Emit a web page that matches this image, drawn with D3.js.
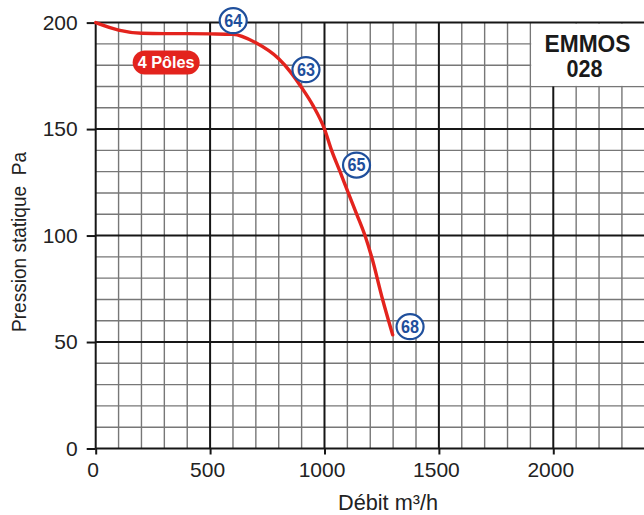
<!DOCTYPE html>
<html>
<head>
<meta charset="utf-8">
<script src="https://cdn.jsdelivr.net/npm/d3@7"></script>
<style>
  html, body { margin: 0; padding: 0; background: #fff; }
  svg { display: block; }
</style>
</head>
<body>
<svg id="chart" width="644" height="515"></svg>
<script>
// ---- data ----
const flow = [0, 100, 200, 300, 400, 500, 600, 700, 800, 850, 900, 950, 1000, 1031, 1068, 1104, 1141, 1177, 1206, 1254, 1298];
const pressure = [200, 196.5, 195, 194.8, 194.8, 194.7, 194.5, 190.5, 183, 177, 169.5, 161, 150, 140, 130, 120, 110, 100, 90, 70, 53.4];

const xTicks = [0, 500, 1000, 1500, 2000];
const yTicks = [0, 50, 100, 150, 200];

const pointLabels = ["64", "63", "65", "68"];
const pointFlow = [601, 919, 1140, 1374];
const pointPressure = [200.9, 177.9, 133.1, 57.2];

const curveName = "4 Pôles";
const curveNameFlow = 308;
const curveNamePressure = 181.3;

const modelLines = ["EMMOS", "028"];

const xTitle = "Débit m³/h";
const yTitle = "Pression statique  Pa";

// ---- layout ----
const svg = d3.select("#chart");
const x = d3.scaleLinear().domain([0, 2400]).range([95.7, 644.8]);
const y = d3.scaleLinear().domain([0, 200]).range([448.5, 22.6]);

const font = "'Liberation Sans', Arial, Helvetica, sans-serif";
const red = "#e3231d";
const blue = "#1f4f9c";

const grid = svg.append("g");
const minorX = d3.range(0, 2401, 100).filter(v => v % 500 !== 0);
const minorY = d3.range(0, 201, 10).filter(v => v % 50 !== 0);
const majorX = d3.range(0, 2401, 500);
const majorY = d3.range(0, 201, 50);

grid.selectAll(".mx").data(minorX).join("line")
  .attr("x1", d => x(d)).attr("x2", d => x(d))
  .attr("y1", y(0)).attr("y2", y(200))
  .attr("stroke", "#777").attr("stroke-width", 1.4);
grid.selectAll(".my").data(minorY).join("line")
  .attr("x1", x(0)).attr("x2", x(2400))
  .attr("y1", d => y(d)).attr("y2", d => y(d))
  .attr("stroke", "#777").attr("stroke-width", 1.4);

// white model box (covers the grid in the top-right corner)
svg.append("rect")
  .attr("x", x(1900) + 0.8).attr("y", y(200) + 1)
  .attr("width", x(2400) - x(1900)).attr("height", y(170) - y(200) - 1.6)
  .attr("fill", "#fff");

grid.selectAll(".Mx").data(majorX).join("line")
  .attr("x1", d => x(d)).attr("x2", d => x(d))
  .attr("y1", d => d >= 2000 ? y(170) : y(0)).attr("y2", d => d >= 2000 ? y(0) : y(200))
  .attr("stroke", "#161616").attr("stroke-width", 2);
svg.append("g").selectAll("line").data(majorY).join("line")
  .attr("x1", x(0)).attr("x2", x(2400))
  .attr("y1", d => y(d)).attr("y2", d => y(d))
  .attr("stroke", "#161616").attr("stroke-width", 2);

// axes
const yAxis = d3.axisLeft(y).tickValues(yTicks).tickSize(9).tickPadding(9).tickFormat(d3.format("d"));
const gy = svg.append("g").attr("transform", `translate(${x(0)},0)`).call(yAxis);
gy.select(".domain").remove();
gy.selectAll(".tick line").attr("stroke", "#161616").attr("stroke-width", 2);
gy.selectAll(".tick text").attr("font-family", font).attr("font-size", 21).attr("fill", "#222");

const xAxis = d3.axisBottom(x).tickValues(xTicks).tickSize(6).tickPadding(8).tickFormat(d3.format("d"));
const gx = svg.append("g").attr("transform", `translate(0,${y(0)})`).call(xAxis);
gx.select(".domain").remove();
gx.selectAll(".tick line").attr("stroke", "#161616").attr("stroke-width", 2);
gx.selectAll(".tick text").attr("font-family", font).attr("font-size", 21).attr("fill", "#222").attr("dx", -3);

// model box text
svg.append("text").attr("x", 587.5).attr("y", 51.5).attr("text-anchor", "middle")
  .attr("font-family", font).attr("font-weight", "bold").attr("font-size", 24)
  .attr("textLength", 86).attr("lengthAdjust", "spacingAndGlyphs").attr("fill", "#1a1a1a")
  .text(modelLines[0]);
svg.append("text").attr("x", 584.5).attr("y", 76.5).attr("text-anchor", "middle")
  .attr("font-family", font).attr("font-weight", "bold").attr("font-size", 24)
  .attr("textLength", 36).attr("lengthAdjust", "spacingAndGlyphs").attr("fill", "#1a1a1a")
  .text(modelLines[1]);

// curve
const pts = flow.map((f, i) => [f, pressure[i]]);
svg.append("path").datum(pts)
  .attr("d", d3.line().x(d => x(d[0])).y(d => y(d[1])).curve(d3.curveMonotoneX))
  .attr("fill", "none").attr("stroke", red).attr("stroke-width", 3.4)
  .attr("stroke-linejoin", "round").attr("stroke-linecap", "round");

// curve name pill
const pill = svg.append("g").attr("transform", `translate(${x(curveNameFlow)},${y(curveNamePressure)})`);
pill.append("rect").attr("x", -33.5).attr("y", -12).attr("width", 67).attr("height", 24).attr("rx", 12)
  .attr("fill", red);
pill.append("text").attr("text-anchor", "middle").attr("y", 6)
  .attr("font-family", font).attr("font-weight", "bold").attr("font-size", 17)
  .attr("textLength", 57).attr("lengthAdjust", "spacingAndGlyphs").attr("fill", "#fff")
  .text(curveName);

// numbered point labels
const marks = svg.append("g").selectAll("g").data(pointLabels).join("g")
  .attr("transform", (d, i) => `translate(${x(pointFlow[i])},${y(pointPressure[i])})`);
marks.append("ellipse").attr("rx", 13.5).attr("ry", 12.5)
  .attr("fill", "#fff").attr("stroke", blue).attr("stroke-width", 2.2);
marks.append("text").attr("text-anchor", "middle").attr("y", 6.3)
  .attr("font-family", font).attr("font-weight", "bold").attr("font-size", 18)
  .attr("textLength", 18).attr("lengthAdjust", "spacingAndGlyphs").attr("fill", blue)
  .text(d => d);

// axis titles
svg.append("text").attr("x", 388).attr("y", 510).attr("text-anchor", "middle")
  .attr("font-family", font).attr("font-size", 22)
  .attr("textLength", 100).attr("lengthAdjust", "spacingAndGlyphs").attr("fill", "#222")
  .text(xTitle);
svg.append("text").attr("transform", "translate(26,242) rotate(-90)").attr("text-anchor", "middle")
  .attr("font-family", font).attr("font-size", 21).style("white-space", "pre")
  .attr("textLength", 180).attr("lengthAdjust", "spacingAndGlyphs").attr("fill", "#222")
  .text(yTitle);
</script>
</body>
</html>
